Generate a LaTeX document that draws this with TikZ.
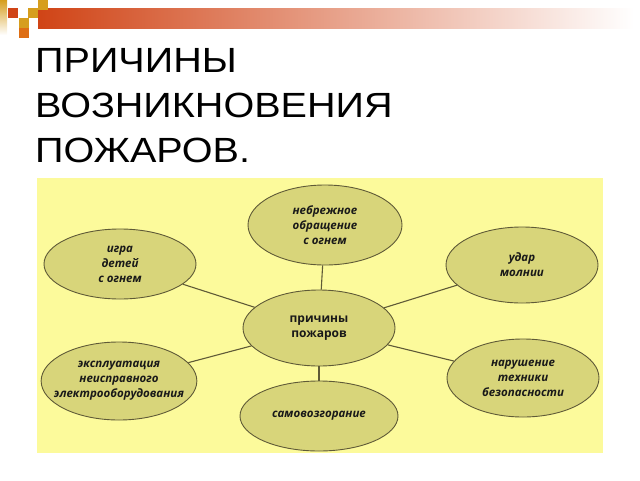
\documentclass[tikz,border=0pt]{standalone}
\usepackage{fontspec}
\setmainfont{Liberation Sans}
\newfontfamily\titlefont[FakeStretch=1.13]{Liberation Sans}
\newfontfamily\causefont{Open Sans}
\usetikzlibrary{shapes.geometric}
\definecolor{panelyellow}{RGB}{252,250,155}
\definecolor{causefill}{RGB}{216,213,122}
\definecolor{causeline}{RGB}{95,90,55}
\definecolor{barred}{RGB}{208,68,22}
\definecolor{squaregold}{RGB}{214,158,30}
\definecolor{squareorange}{RGB}{222,110,20}
\tikzset{
  cause/.style={ellipse, draw=causeline, fill=causefill, line width=0.9pt,
    inner xsep=-10pt, inner ysep=0pt, align=center, text=black!90,
    font=\causefont\bfseries\itshape\fontsize{11.5}{15}\selectfont},
  hub/.style={cause, font=\causefont\bfseries\fontsize{12}{15}\selectfont},
  link/.style={draw=causeline, line width=1.1pt}
}
\begin{document}
\begin{tikzpicture}[x=1pt,y=-1pt]
    \useasboundingbox (0,0) rectangle (640,480);
    % header bar
    \shade[left color=barred, right color=white] (38,8) rectangle (634,28);
    \shade[top color=squaregold, bottom color=white] (0,0) rectangle (7,35);
    \foreach \x/\y/\c in {8/8/barred, 28/8/squaregold, 38/0/squaregold, 19/18/squaregold, 19/28/squareorange}
        \fill[\c] (\x,\y) rectangle ++(10,10);

    % title
    \foreach \line/\y in {ПРИЧИНЫ/72, ВОЗНИКНОВЕНИЯ/117, ПОЖАРОВ./162}
        \node[anchor=base west, inner sep=0pt, font=\titlefont\fontsize{35}{45}\selectfont] (title-\y) at (35,\y) {\line};

    % panel
    \fill[panelyellow] (37,178) rectangle (603,453);

    % causes
    \node[hub, minimum width=152pt, minimum height=76pt] (hub) at (319,328) {причины\\пожаров};
    \node[cause, minimum width=154pt, minimum height=80pt] (careless) at (325,225) {небрежное\\обращение\\с огнем};
    \node[cause, minimum width=152pt, minimum height=70pt] (kids) at (120,264) {игра\\детей\\с огнем};
    \node[cause, minimum width=152pt, minimum height=76pt] (lightning) at (522,265) {удар\\молнии};
    \node[cause, minimum width=154pt, minimum height=78pt] (wiring) at (119,381) {эксплуатация\\неисправного\\электрооборудования};
    \node[cause, minimum width=152pt, minimum height=78pt] (safety) at (523,378) {нарушение\\техники\\безопасности};
    \node[cause, minimum width=158pt, minimum height=70pt] (selfheat) at (319,416) {самовозгорание};

    % links
    \foreach \n in {careless, kids, lightning, wiring, safety, selfheat}
        \draw[link] (hub) -- (\n);
\end{tikzpicture}
\end{document}
